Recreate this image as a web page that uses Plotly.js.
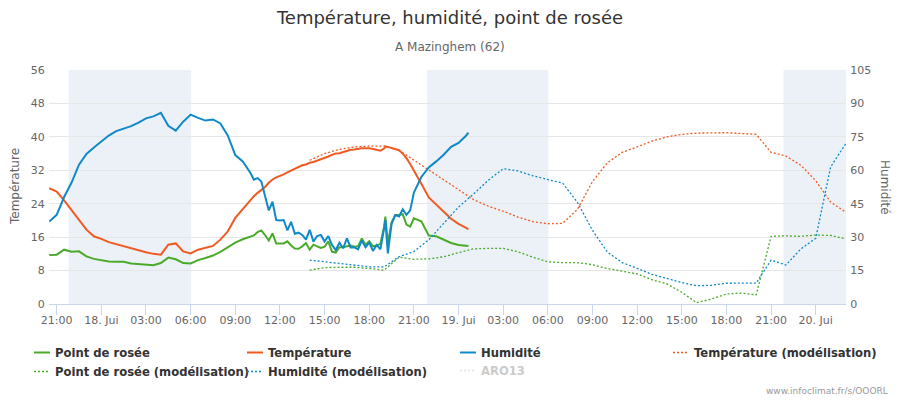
<!DOCTYPE html>
<html><head><meta charset="utf-8">
<script src="https://cdn.plot.ly/plotly-3.0.1.min.js"></script>
<style>body{margin:0;background:#fff}#chart{width:900px;height:400px}</style>
</head><body><div id="chart"></div>
<script>
// ---------- observed data (station) ----------
const obsTime = [
 '2022-06-17 20:30','2022-06-17 21:00','2022-06-17 21:30','2022-06-17 22:00','2022-06-17 22:30','2022-06-17 23:00','2022-06-17 23:30',
 '2022-06-18 00:00','2022-06-18 00:30','2022-06-18 01:00','2022-06-18 01:30','2022-06-18 02:00','2022-06-18 02:30','2022-06-18 03:00',
 '2022-06-18 03:30','2022-06-18 04:00','2022-06-18 04:30','2022-06-18 05:00','2022-06-18 05:30','2022-06-18 06:00','2022-06-18 06:30',
 '2022-06-18 07:00','2022-06-18 07:30','2022-06-18 08:00','2022-06-18 08:30','2022-06-18 09:00','2022-06-18 09:30',
 '2022-06-18 10:00','2022-06-18 10:15','2022-06-18 10:30','2022-06-18 10:45','2022-06-18 11:00','2022-06-18 11:15','2022-06-18 11:30','2022-06-18 11:45',
 '2022-06-18 12:00','2022-06-18 12:15','2022-06-18 12:30','2022-06-18 12:45','2022-06-18 13:00','2022-06-18 13:15','2022-06-18 13:30','2022-06-18 13:45',
 '2022-06-18 14:00','2022-06-18 14:15','2022-06-18 14:30','2022-06-18 14:45','2022-06-18 15:00','2022-06-18 15:15','2022-06-18 15:30','2022-06-18 15:45',
 '2022-06-18 16:00','2022-06-18 16:15','2022-06-18 16:30','2022-06-18 16:45','2022-06-18 17:00','2022-06-18 17:15','2022-06-18 17:30','2022-06-18 17:45',
 '2022-06-18 18:00','2022-06-18 18:15','2022-06-18 18:30','2022-06-18 18:45','2022-06-18 19:00','2022-06-18 19:05','2022-06-18 19:15','2022-06-18 19:30',
 '2022-06-18 19:45','2022-06-18 20:00','2022-06-18 20:15','2022-06-18 20:30','2022-06-18 20:45','2022-06-18 21:00',
 '2022-06-18 21:30','2022-06-18 22:00','2022-06-18 22:30','2022-06-18 23:00','2022-06-18 23:30','2022-06-19 00:00','2022-06-19 00:30','2022-06-19 00:40'
];
const temperature = [
 27.7,26.9,24.8,22.4,20.2,17.8,16.2,15.6,14.8,14.3,13.8,13.3,12.8,12.4,12.0,11.8,14.2,14.5,12.6,12.1,13.0,13.5,13.9,15.4,17.4,20.6,22.7,
 24.8,25.8,26.6,27.3,28.0,29.0,29.8,30.3,30.6,31.0,31.5,31.9,32.3,32.7,33.2,33.4,33.8,34.0,34.3,34.6,35.0,35.3,35.7,36.0,
 36.1,36.4,36.6,36.9,37.0,37.2,37.3,37.3,37.3,37.1,36.9,36.7,37.2,37.7,37.6,37.3,37.0,36.8,36.0,34.9,33.5,32.0,
 28.8,25.5,23.8,21.9,20.4,19.2,18.2,17.9
];
const humidity = [
 37.0,40.0,48.0,54.5,62.5,67.3,70.2,73.1,75.6,77.6,78.8,79.8,81.4,83.3,84.2,85.8,80.0,77.8,81.8,85.0,83.5,82.3,82.8,81.0,75.5,66.8,64.0,
 59.0,55.8,56.5,55.0,48.1,42.0,45.9,37.7,37.5,37.7,33.0,36.9,31.5,32.0,31.0,28.9,33.3,28.0,30.5,31.0,28.0,30.5,26.5,24.2,
 27.5,25.0,29.5,25.4,25.4,24.5,28.5,25.5,27.5,23.8,26.5,24.5,34.0,37.7,22.7,36.0,39.9,39.3,42.5,40.0,42.0,50.0,
 57.0,61.3,64.0,67.0,70.5,72.3,75.5,76.9
];
const dewPoint = [
 11.7,11.8,13.0,12.5,12.6,11.4,10.8,10.5,10.2,10.1,10.1,9.7,9.6,9.5,9.3,9.8,11.1,10.7,9.8,9.7,10.5,11.0,11.6,12.5,13.7,14.7,15.5,
 16.1,16.4,17.2,17.6,16.5,15.2,16.9,14.5,14.5,14.5,15.0,14.0,13.3,13.2,13.8,14.6,13.0,14.2,13.8,13.4,13.7,15.0,12.5,12.3,
 13.6,13.6,13.8,14.0,13.7,13.8,15.7,14.2,15.0,13.8,14.0,14.4,18.5,20.9,14.5,19.5,21.3,21.3,21.5,19.0,18.5,20.5,
 19.8,16.4,16.2,15.3,14.6,14.1,13.9,13.9
];

// ---------- model data (hourly) ----------
const modelTime = [
 '2022-06-18 14:00','2022-06-18 15:00','2022-06-18 16:00','2022-06-18 17:00','2022-06-18 18:00','2022-06-18 19:00','2022-06-18 20:00',
 '2022-06-18 21:00','2022-06-18 22:00','2022-06-18 23:00','2022-06-19 00:00','2022-06-19 01:00','2022-06-19 02:00','2022-06-19 03:00',
 '2022-06-19 04:00','2022-06-19 05:00','2022-06-19 06:00','2022-06-19 07:00','2022-06-19 08:00','2022-06-19 09:00','2022-06-19 10:00',
 '2022-06-19 11:00','2022-06-19 12:00','2022-06-19 13:00','2022-06-19 14:00','2022-06-19 15:00','2022-06-19 16:00','2022-06-19 17:00',
 '2022-06-19 18:00','2022-06-19 19:00','2022-06-19 20:00','2022-06-19 21:00','2022-06-19 22:00','2022-06-19 23:00','2022-06-20 00:00',
 '2022-06-20 01:00','2022-06-20 02:00'
];
const temperatureModel = [34.4,36.0,37.0,37.6,37.8,37.8,36.8,34.4,32.1,29.7,27.2,25.0,23.4,22.2,20.8,19.7,19.2,19.3,22.7,29.3,33.8,
 36.3,37.6,39.0,40.0,40.6,40.9,41.0,41.0,40.8,40.6,36.3,35.4,33.2,29.5,24.4,22.0];
const humidityModel = [19.7,18.9,18.1,17.3,16.7,16.6,21.2,23.5,28.8,36.2,43.5,49.3,55.5,60.7,59.7,57.5,55.8,54.2,45.5,33.0,23.3,
 18.6,16.0,13.3,11.5,9.6,8.2,8.4,9.3,9.3,9.4,19.7,17.5,24.7,29.5,61.5,71.8];
const dewPointModel = [8.1,8.7,8.8,8.8,8.5,8.1,11.2,10.7,10.8,11.3,12.3,13.2,13.3,13.3,12.5,11.2,10.1,9.9,9.9,9.4,8.5,
 7.8,7.2,5.8,4.8,2.8,0.3,1.2,2.4,2.6,2.2,16.2,16.3,16.2,16.5,16.4,15.6];

// ---------- axis / annotations ----------
const xRange = ['2022-06-17 20:29','2022-06-20 02:02'];
const tickTimes = ['2022-06-17 21:00','2022-06-18 00:00','2022-06-18 03:00','2022-06-18 06:00','2022-06-18 09:00','2022-06-18 12:00',
 '2022-06-18 15:00','2022-06-18 18:00','2022-06-18 21:00','2022-06-19 00:00','2022-06-19 03:00','2022-06-19 06:00','2022-06-19 09:00',
 '2022-06-19 12:00','2022-06-19 15:00','2022-06-19 18:00','2022-06-19 21:00','2022-06-20 00:00'];
const tickLabels = ['21:00','18. Jui','03:00','06:00','09:00','12:00','15:00','18:00','21:00','19. Jui','03:00','06:00','09:00',
 '12:00','15:00','18:00','21:00','20. Jui'];
const nightStart = ['2022-06-17 21:48','2022-06-18 21:53','2022-06-19 21:50'];
const nightEnd = ['2022-06-18 06:02','2022-06-19 06:02','2022-06-20 06:02'];

const FONT = 'DejaVu Sans, Verdana, sans-serif';
const cTemp = '#f05a22', cHum = '#1089c8', cDew = '#4aab2b';
const dotDash = '2px,2px';

const traces = [
 {x: obsTime, y: dewPoint, name: 'Point de rosée', type: 'scatter', mode: 'lines', line: {color: cDew, width: 2}, legend: 'legend'},
 {x: obsTime, y: temperature, name: 'Température', type: 'scatter', mode: 'lines', line: {color: cTemp, width: 2}, legend: 'legend2'},
 {x: modelTime, y: temperatureModel, name: 'Température (modélisation)', type: 'scatter', mode: 'lines', line: {color: cTemp, width: 1.3, dash: dotDash}, legend: 'legend4'},
 {x: modelTime, y: dewPointModel, name: 'Point de rosée (modélisation)', type: 'scatter', mode: 'lines', line: {color: cDew, width: 1.3, dash: dotDash}, legend: 'legend'},
 {x: obsTime, y: humidity, name: 'Humidité', type: 'scatter', mode: 'lines', yaxis: 'y2', line: {color: cHum, width: 2}, legend: 'legend3'},
 {x: modelTime, y: humidityModel, name: 'Humidité (modélisation)', type: 'scatter', mode: 'lines', yaxis: 'y2', line: {color: cHum, width: 1.3, dash: dotDash}, legend: 'legend2'},
 {x: [modelTime[0]], y: [null], name: 'ARO13', type: 'scatter', mode: 'lines', visible: 'legendonly', line: {color: '#c8c8c8', width: 1.3, dash: dotDash}, legend: 'legend5'}
];

const L = 49, R = 846, T = 70, B = 304;
const px2x = p => (p - L) / (R - L);
const py2y = p => (B - p) / (B - T);

function legendAt(xpx, ypx, color) {
  return {x: px2x(xpx), y: py2y(ypx), xanchor: 'left', yanchor: 'top', orientation: 'v',
    bgcolor: 'rgba(0,0,0,0)', itemclick: false, itemdoubleclick: false, tracegroupgap: 0,
    font: {family: FONT, size: 11.6, color: color || '#333', weight: 'bold'}};
}

const shapes = nightStart.map((s, i) => ({type: 'rect', xref: 'x', yref: 'paper', x0: s, x1: nightEnd[i], y0: 0, y1: 1,
  fillcolor: '#ecf0f7', line: {width: 0}, layer: 'below'}));

const layout = {
  width: 900, height: 400,
  margin: {l: L, r: 900 - R, t: T, b: 400 - B, autoexpand: false},
  paper_bgcolor: '#fff', plot_bgcolor: '#fff',
  font: {family: FONT, color: '#666', size: 11},
  showlegend: true,
  title: {text: 'Température, humidité, point de rosée', x: 0.5, xanchor: 'center', y: 1 - 18 / 400, yanchor: 'middle', yref: 'container',
    font: {family: FONT, size: 18, color: '#333'}},
  xaxis: {type: 'date', range: xRange, tickmode: 'array', tickvals: tickTimes, ticktext: tickLabels,
    ticks: 'outside', ticklen: 10, tickcolor: '#ccd6eb', tickwidth: 1, showgrid: false, zeroline: false,
    showline: true, linecolor: '#ccd6eb', linewidth: 1, ticklabelstandoff: -4, tickfont: {family: FONT, size: 11, color: '#666'}},
  yaxis: {range: [0, 56], dtick: 8, tick0: 0, showgrid: true, gridcolor: '#e6e6e6', gridwidth: 1, zeroline: false,
    showline: false, ticks: 'outside', ticklen: 1, tickcolor: 'rgba(0,0,0,0)', tickfont: {family: FONT, size: 11, color: '#666'}},
  yaxis2: {range: [0, 105], dtick: 15, tick0: 0, overlaying: 'y', side: 'right', showgrid: false, zeroline: false,
    showline: false, ticks: 'outside', ticklen: 1, tickcolor: 'rgba(0,0,0,0)', tickfont: {family: FONT, size: 11, color: '#666'}},
  shapes: shapes,
  legend: legendAt(15, 338),
  legend2: legendAt(228, 338),
  legend3: legendAt(441, 338),
  legend4: legendAt(654, 338),
  legend5: legendAt(441, 356, '#999'),
  annotations: [
    {text: 'A Mazinghem (62)', xref: 'paper', yref: 'paper', x: px2x(450), y: py2y(47), showarrow: false,
      xanchor: 'center', yanchor: 'middle', font: {family: FONT, size: 12, color: '#666'}},
    {text: 'Température', xref: 'paper', yref: 'paper', x: px2x(15), y: 0.5, textangle: -90, showarrow: false,
      xanchor: 'center', yanchor: 'middle', font: {family: FONT, size: 12, color: '#666'}},
    {text: 'Humidité', xref: 'paper', yref: 'paper', x: px2x(885), y: 0.5, textangle: 90, showarrow: false,
      xanchor: 'center', yanchor: 'middle', font: {family: FONT, size: 12, color: '#666'}},
    {text: 'www.infoclimat.fr/s/OOORL', xref: 'paper', yref: 'paper', x: px2x(890), y: py2y(391), showarrow: false,
      xanchor: 'right', yanchor: 'middle', font: {family: FONT, size: 9, color: '#999'}}
  ]
};

// draw the legend symbols at Highcharts' shorter length (16 px, ending 5 px before the text)
function shortenLegendSymbols() {
  document.querySelectorAll('#chart .legendlines path').forEach(p => {
    if (p.getAttribute('d') !== 'M19,0h16') p.setAttribute('d', 'M19,0h16');
  });
}

const gdPromise = Plotly.newPlot('chart', traces, layout, {displayModeBar: false, staticPlot: true});
gdPromise.then(gd => {
  shortenLegendSymbols();
  gd.on('plotly_afterplot', shortenLegendSymbols);
  setTimeout(shortenLegendSymbols, 0);
  setTimeout(shortenLegendSymbols, 50);
  new MutationObserver(shortenLegendSymbols).observe(gd, {subtree: true, childList: true, attributes: true, attributeFilter: ['d']});
});
</script>
</body></html>
